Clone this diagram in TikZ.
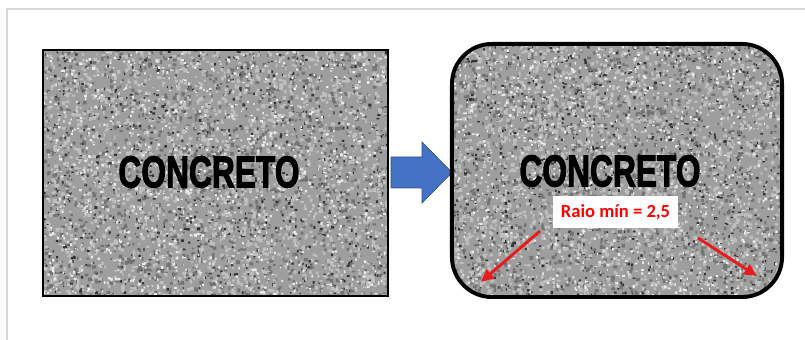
\documentclass[tikz,border=0pt]{standalone}
\usepackage{fontspec}
\setmainfont{Liberation Sans}
\newfontfamily\heavyfont[FakeBold=2.5]{Liberation Sans Bold}
\newfontfamily\labelfont{Carlito}
\usepackage{tikz}
\usetikzlibrary{arrows.meta, positioning}
\definecolor{arrowblue}{RGB}{68,114,196}
\definecolor{arrowblueline}{RGB}{47,82,143}
\definecolor{markred}{RGB}{232,28,28}
\definecolor{framegray}{RGB}{215,215,215}

% speckled concrete fill between (#1,#2) and (#3,#4)
\newcommand{\concretespeckle}[4]{%
  \fill[black!38] (#1,#2) rectangle (#3,#4);
  \fill[black!80] foreach \i in {1,...,900}
    {({#1+rnd*(#3-#1)},{#2+rnd*(#4-#2)}) rectangle ++({1+rnd*2},{1+rnd*2})};
  \fill[black!55] foreach \i in {1,...,1400}
    {({#1+rnd*(#3-#1)},{#2+rnd*(#4-#2)}) rectangle ++({1.5+rnd*2.5},{1.5+rnd*2.5})};
  \fill[black!25] foreach \i in {1,...,2000}
    {({#1+rnd*(#3-#1)},{#2+rnd*(#4-#2)}) rectangle ++({1.5+rnd*2.5},{1.5+rnd*2.5})};
  \fill[black!8] foreach \i in {1,...,1000}
    {({#1+rnd*(#3-#1)},{#2+rnd*(#4-#2)}) rectangle ++({1+rnd*1.8},{1+rnd*1.8})};
}

\begin{document}
\begin{tikzpicture}[
    x=0.025cm, y=-0.025cm,
    block/.style={rectangle, draw=black, inner sep=0pt},
    bigword/.style={font=\heavyfont\fontsize{31.8}{34}\selectfont, text=black, inner sep=0pt},
    radiuslabel/.style={rectangle, fill=white, text=red, inner sep=0pt,
                        minimum width=3.125cm, minimum height=0.8cm,
                        font=\labelfont\fontsize{13.2}{15}\selectfont\bfseries},
    redarrow/.style={draw=markred, line width=2.1pt, -{Triangle[length=9pt, width=8pt]}}
]
\useasboundingbox (0,0) rectangle (805,340);
\pgfmathsetseed{31}

% page frame
\draw[framegray, line width=1.1pt] (7,340) -- (7,9) -- (805,9);

% left block, square corners
\begin{scope}
  \clip (43,50) rectangle (388,296);
  \concretespeckle{43}{50}{388}{296}
\end{scope}
\node[block, line width=0.8pt, minimum width=8.625cm, minimum height=6.15cm]
    (leftblock) at (215.5,173) {};
\node[bigword] (leftword) at (209,172) {\scalebox{0.71}[1]{CONCRETO}};

% block arrow
\draw[fill=arrowblue, draw=arrowblueline, line width=0.5pt]
    (391,157) -- (422,157) -- (422,142) -- (452,172.5)
    -- (422,203) -- (422,188) -- (391,188) -- cycle;

% right block, rounded corners
\begin{scope}
  \clip[rounded corners=1cm] (452,44) rectangle (782,297);
  \concretespeckle{452}{44}{782}{297}
\end{scope}
\node[block, rounded corners=1cm, line width=2.8pt,
      minimum width=8.25cm, minimum height=6.325cm]
    (rightblock) at (617,170.5) {};
\node[bigword] (rightword) at (610,171) {\scalebox{0.71}[1]{CONCRETO}};

\node[radiuslabel] (radius) at (615.5,212) {Raio mín = 2,5};

\coordinate (leftstart) at (540,231);
\coordinate (leftend) at (481,282);
\coordinate (rightstart) at (698,238);
\coordinate (rightend) at (757,276);
\draw[redarrow] (leftstart) -- (leftend);
\draw[redarrow] (rightstart) -- (rightend);
\end{tikzpicture}
\end{document}
